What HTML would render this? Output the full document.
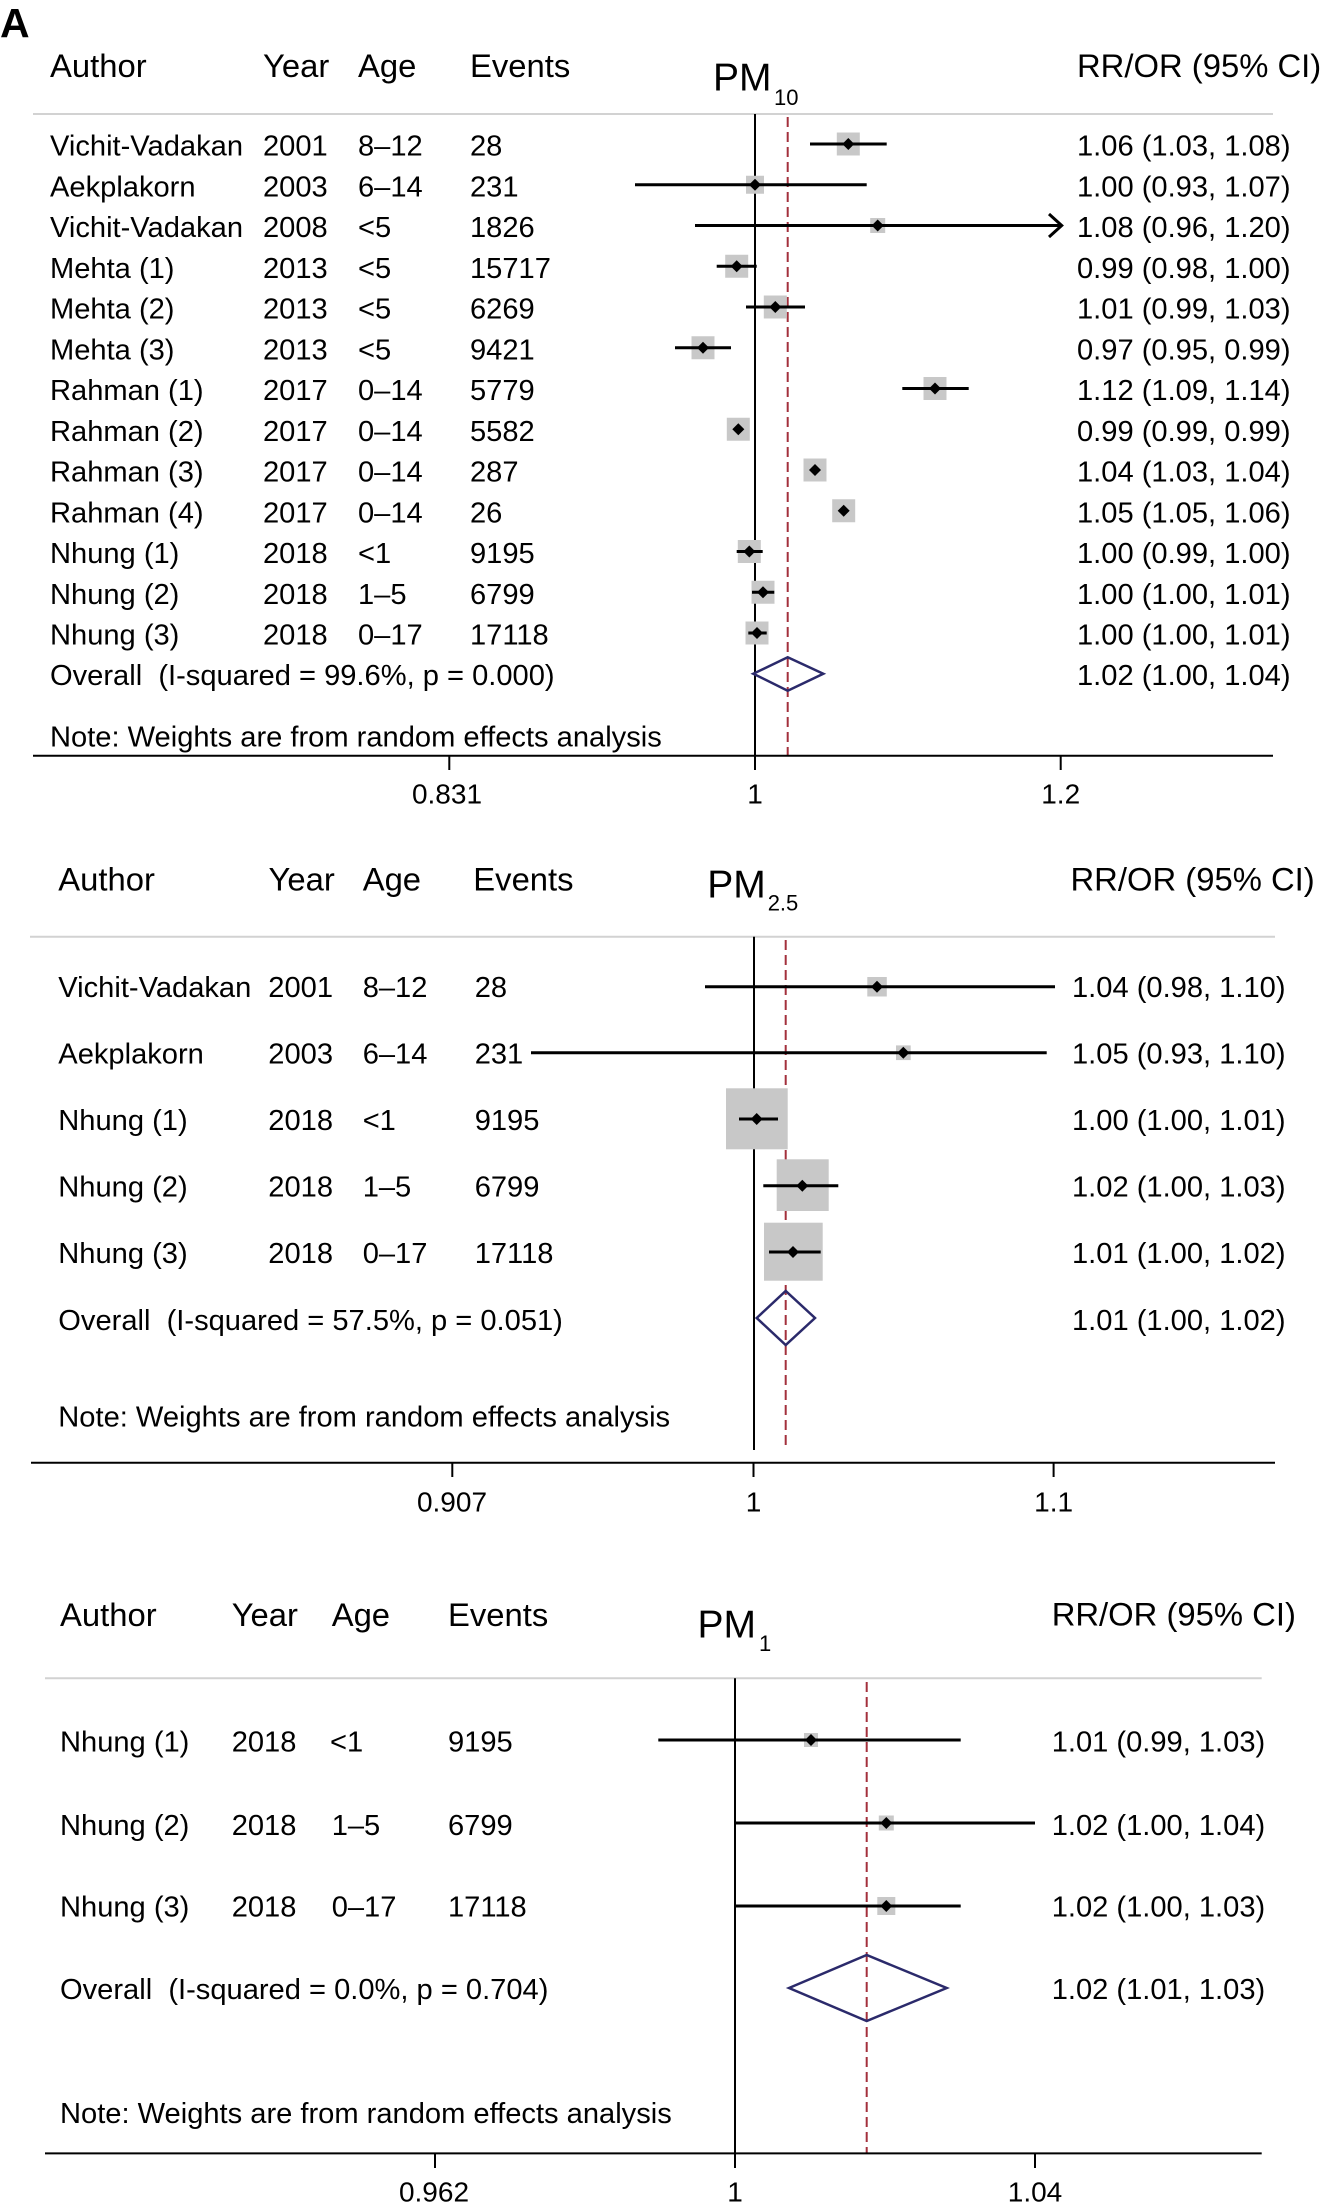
<!DOCTYPE html>
<html>
<head>
<meta charset="utf-8">
<style>
html,body{margin:0;padding:0;background:#fff;}
svg{display:block;}
text{font-family:"Liberation Sans",Arial,Helvetica,sans-serif;fill:#000;white-space:pre;}
.h{font-size:32.8px;}
.r{font-size:29.1px;}
.t{font-size:28px;}
.pm{font-size:39px;}
.sub{font-size:22px;}
</style>
</head>
<body>
<svg width="1324" height="2209" viewBox="0 0 1324 2209" xmlns="http://www.w3.org/2000/svg">
<rect x="0" y="0" width="1324" height="2209" fill="#fff"/>
<text x="0" y="37" style="font-size:41px;font-weight:bold;">A</text>

<!-- ================= PANEL 1 : PM10 ================= -->
<g>
<text class="h" x="50" y="77">Author</text>
<text class="h" x="263" y="77">Year</text>
<text class="h" x="358" y="77">Age</text>
<text class="h" x="470" y="77">Events</text>
<text class="pm" x="713" y="90.7">PM</text>
<text class="sub" x="774" y="105">10</text>
<text class="h" x="1077" y="77">RR/OR (95% CI)</text>
<line x1="33" y1="114" x2="1273" y2="114" stroke="#d2d2d2" stroke-width="2"/>

<line x1="755" y1="114" x2="755" y2="770" stroke="#000" stroke-width="2"/>
<line x1="787.7" y1="117" x2="787.7" y2="755" stroke="#a3303c" stroke-width="2" stroke-dasharray="10 5"/>

<g fill="#c8c8c8">
<rect x="836.8" y="132.5" width="23" height="23"/>
<rect x="746" y="175.75" width="18" height="18"/>
<rect x="870.2" y="218" width="15" height="15"/>
<rect x="725.2" y="254.75" width="23" height="23"/>
<rect x="763.8" y="295.5" width="23" height="23"/>
<rect x="691.5" y="336.25" width="23" height="23"/>
<rect x="923.5" y="377" width="23" height="23"/>
<rect x="726.8" y="417.75" width="23" height="23"/>
<rect x="803.5" y="458.5" width="23" height="23"/>
<rect x="832.2" y="499.25" width="23" height="23"/>
<rect x="737.8" y="540" width="23" height="23"/>
<rect x="751.5" y="580.75" width="23" height="23"/>
<rect x="745.5" y="621.5" width="23" height="23"/>
</g>
<g stroke="#000" stroke-width="3">
<line x1="810" y1="144" x2="886.7" y2="144"/>
<line x1="635" y1="184.75" x2="866.7" y2="184.75"/>
<line x1="695" y1="225.5" x2="1061" y2="225.5"/>
<line x1="716.7" y1="266.25" x2="756.7" y2="266.25"/>
<line x1="746" y1="307" x2="805" y2="307"/>
<line x1="675" y1="347.75" x2="731" y2="347.75"/>
<line x1="902.3" y1="388.5" x2="968.7" y2="388.5"/>
<line x1="735" y1="429.25" x2="741.5" y2="429.25"/>
<line x1="811" y1="470" x2="817" y2="470"/>
<line x1="842" y1="510.75" x2="847" y2="510.75"/>
<line x1="736.7" y1="551.5" x2="762.7" y2="551.5"/>
<line x1="752" y1="592.25" x2="774.3" y2="592.25"/>
<line x1="748.3" y1="633" x2="766.7" y2="633"/>
</g>
<polyline points="1049,214 1061.7,225.5 1049,237" fill="none" stroke="#000" stroke-width="3"/>
<g fill="#000">
<polygon points="848.3,138 854.3,144 848.3,150 842.3,144"/>
<polygon points="755,178.75 761,184.75 755,190.75 749,184.75"/>
<polygon points="877.7,219.5 883.7,225.5 877.7,231.5 871.7,225.5"/>
<polygon points="736.7,260.25 742.7,266.25 736.7,272.25 730.7,266.25"/>
<polygon points="775.3,301 781.3,307 775.3,313 769.3,307"/>
<polygon points="703,341.75 709,347.75 703,353.75 697,347.75"/>
<polygon points="935,382.5 941,388.5 935,394.5 929,388.5"/>
<polygon points="738.3,423.25 744.3,429.25 738.3,435.25 732.3,429.25"/>
<polygon points="815,464 821,470 815,476 809,470"/>
<polygon points="843.7,504.75 849.7,510.75 843.7,516.75 837.7,510.75"/>
<polygon points="749.3,545.5 755.3,551.5 749.3,557.5 743.3,551.5"/>
<polygon points="763,586.25 769,592.25 763,598.25 757,592.25"/>
<polygon points="757,627 763,633 757,639 751,633"/>
</g>
<polygon points="753.3,673.75 787.7,657.3 823.3,673.75 787.7,690.7" fill="none" stroke="#2b2a6b" stroke-width="2.5"/>

<g>
<text class="r" x="50" y="155.5">Vichit-Vadakan</text><text class="r" x="263" y="155.5">2001</text><text class="r" x="358" y="155.5">8–12</text><text class="r" x="470" y="155.5">28</text><text class="r" x="1077" y="155.5">1.06 (1.03, 1.08)</text>
<text class="r" x="50" y="196.25">Aekplakorn</text><text class="r" x="263" y="196.25">2003</text><text class="r" x="358" y="196.25">6–14</text><text class="r" x="470" y="196.25">231</text><text class="r" x="1077" y="196.25">1.00 (0.93, 1.07)</text>
<text class="r" x="50" y="237">Vichit-Vadakan</text><text class="r" x="263" y="237">2008</text><text class="r" x="358" y="237">&lt;5</text><text class="r" x="470" y="237">1826</text><text class="r" x="1077" y="237">1.08 (0.96, 1.20)</text>
<text class="r" x="50" y="277.75">Mehta (1)</text><text class="r" x="263" y="277.75">2013</text><text class="r" x="358" y="277.75">&lt;5</text><text class="r" x="470" y="277.75">15717</text><text class="r" x="1077" y="277.75">0.99 (0.98, 1.00)</text>
<text class="r" x="50" y="318.5">Mehta (2)</text><text class="r" x="263" y="318.5">2013</text><text class="r" x="358" y="318.5">&lt;5</text><text class="r" x="470" y="318.5">6269</text><text class="r" x="1077" y="318.5">1.01 (0.99, 1.03)</text>
<text class="r" x="50" y="359.25">Mehta (3)</text><text class="r" x="263" y="359.25">2013</text><text class="r" x="358" y="359.25">&lt;5</text><text class="r" x="470" y="359.25">9421</text><text class="r" x="1077" y="359.25">0.97 (0.95, 0.99)</text>
<text class="r" x="50" y="400">Rahman (1)</text><text class="r" x="263" y="400">2017</text><text class="r" x="358" y="400">0–14</text><text class="r" x="470" y="400">5779</text><text class="r" x="1077" y="400">1.12 (1.09, 1.14)</text>
<text class="r" x="50" y="440.75">Rahman (2)</text><text class="r" x="263" y="440.75">2017</text><text class="r" x="358" y="440.75">0–14</text><text class="r" x="470" y="440.75">5582</text><text class="r" x="1077" y="440.75">0.99 (0.99, 0.99)</text>
<text class="r" x="50" y="481.5">Rahman (3)</text><text class="r" x="263" y="481.5">2017</text><text class="r" x="358" y="481.5">0–14</text><text class="r" x="470" y="481.5">287</text><text class="r" x="1077" y="481.5">1.04 (1.03, 1.04)</text>
<text class="r" x="50" y="522.25">Rahman (4)</text><text class="r" x="263" y="522.25">2017</text><text class="r" x="358" y="522.25">0–14</text><text class="r" x="470" y="522.25">26</text><text class="r" x="1077" y="522.25">1.05 (1.05, 1.06)</text>
<text class="r" x="50" y="563">Nhung (1)</text><text class="r" x="263" y="563">2018</text><text class="r" x="358" y="563">&lt;1</text><text class="r" x="470" y="563">9195</text><text class="r" x="1077" y="563">1.00 (0.99, 1.00)</text>
<text class="r" x="50" y="603.75">Nhung (2)</text><text class="r" x="263" y="603.75">2018</text><text class="r" x="358" y="603.75">1–5</text><text class="r" x="470" y="603.75">6799</text><text class="r" x="1077" y="603.75">1.00 (1.00, 1.01)</text>
<text class="r" x="50" y="644.5">Nhung (3)</text><text class="r" x="263" y="644.5">2018</text><text class="r" x="358" y="644.5">0–17</text><text class="r" x="470" y="644.5">17118</text><text class="r" x="1077" y="644.5">1.00 (1.00, 1.01)</text>
<text class="r" x="50" y="685">Overall  (I-squared = 99.6%, p = 0.000)</text><text class="r" x="1077" y="685">1.02 (1.00, 1.04)</text>
<text class="r" x="50" y="746.5">Note: Weights are from random effects analysis</text>
</g>
<line x1="33" y1="755.7" x2="1273" y2="755.7" stroke="#000" stroke-width="2"/>
<line x1="449.3" y1="755.7" x2="449.3" y2="770" stroke="#000" stroke-width="2"/>
<line x1="1060.7" y1="755.7" x2="1060.7" y2="770" stroke="#000" stroke-width="2"/>
<text class="t" x="447" y="803.3" text-anchor="middle">0.831</text>
<text class="t" x="755" y="803.3" text-anchor="middle">1</text>
<text class="t" x="1060.7" y="803.3" text-anchor="middle">1.2</text>
</g>

<!-- ================= PANEL 2 : PM2.5 ================= -->
<g>
<text class="h" x="58.3" y="890.7">Author</text>
<text class="h" x="268.5" y="890.7">Year</text>
<text class="h" x="362.7" y="890.7">Age</text>
<text class="h" x="473.3" y="890.7">Events</text>
<text class="pm" x="707.3" y="897.3">PM</text>
<text class="sub" x="767.7" y="910.7">2.5</text>
<text class="h" x="1070.5" y="890.7">RR/OR (95% CI)</text>
<line x1="30" y1="936.7" x2="1275" y2="936.7" stroke="#d2d2d2" stroke-width="2"/>

<line x1="754" y1="936.7" x2="754" y2="1450" stroke="#000" stroke-width="2"/>
<line x1="785.7" y1="940" x2="785.7" y2="1450" stroke="#a3303c" stroke-width="2" stroke-dasharray="10 5"/>

<g fill="#c8c8c8">
<rect x="867.3" y="977" width="19.5" height="19.5"/>
<rect x="896" y="1045.4" width="14.7" height="14.7"/>
<rect x="726" y="1088.3" width="61.7" height="61"/>
<rect x="776.7" y="1159.3" width="52" height="51.7"/>
<rect x="764" y="1222.7" width="58.7" height="58"/>
</g>
<g stroke="#000" stroke-width="3">
<line x1="705" y1="986.7" x2="1055" y2="986.7"/>
<line x1="531" y1="1052.7" x2="1046.7" y2="1052.7"/>
<line x1="739" y1="1119" x2="778" y2="1119"/>
<line x1="763.3" y1="1185.7" x2="838.3" y2="1185.7"/>
<line x1="769" y1="1252" x2="820.7" y2="1252"/>
</g>
<g fill="#000">
<polygon points="877,980.7 883,986.7 877,992.7 871,986.7"/>
<polygon points="903.3,1046.7 909.3,1052.7 903.3,1058.7 897.3,1052.7"/>
<polygon points="756.7,1113 762.7,1119 756.7,1125 750.7,1119"/>
<polygon points="802.3,1179.7 808.3,1185.7 802.3,1191.7 796.3,1185.7"/>
<polygon points="793,1246 799,1252 793,1258 787,1252"/>
</g>
<polygon points="756.7,1318 785.7,1291 815,1318 785.7,1345" fill="none" stroke="#2b2a6b" stroke-width="2.5"/>

<text class="r" x="58.3" y="997">Vichit-Vadakan</text><text class="r" x="268.3" y="997">2001</text><text class="r" x="362.7" y="997">8–12</text><text class="r" x="474.7" y="997">28</text><text class="r" x="1072" y="997">1.04 (0.98, 1.10)</text>
<text class="r" x="58.3" y="1063.5">Aekplakorn</text><text class="r" x="268.3" y="1063.5">2003</text><text class="r" x="362.7" y="1063.5">6–14</text><text class="r" x="474.7" y="1063.5">231</text><text class="r" x="1072" y="1063.5">1.05 (0.93, 1.10)</text>
<text class="r" x="58.3" y="1130">Nhung (1)</text><text class="r" x="268.3" y="1130">2018</text><text class="r" x="362.7" y="1130">&lt;1</text><text class="r" x="474.7" y="1130">9195</text><text class="r" x="1072" y="1130">1.00 (1.00, 1.01)</text>
<text class="r" x="58.3" y="1196.5">Nhung (2)</text><text class="r" x="268.3" y="1196.5">2018</text><text class="r" x="362.7" y="1196.5">1–5</text><text class="r" x="474.7" y="1196.5">6799</text><text class="r" x="1072" y="1196.5">1.02 (1.00, 1.03)</text>
<text class="r" x="58.3" y="1263">Nhung (3)</text><text class="r" x="268.3" y="1263">2018</text><text class="r" x="362.7" y="1263">0–17</text><text class="r" x="474.7" y="1263">17118</text><text class="r" x="1072" y="1263">1.01 (1.00, 1.02)</text>
<text class="r" x="58.3" y="1330">Overall  (I-squared = 57.5%, p = 0.051)</text><text class="r" x="1072" y="1330">1.01 (1.00, 1.02)</text>
<text class="r" x="58.3" y="1426.7">Note: Weights are from random effects analysis</text>

<line x1="31" y1="1462.7" x2="1275" y2="1462.7" stroke="#000" stroke-width="2"/>
<line x1="452.3" y1="1462.7" x2="452.3" y2="1477" stroke="#000" stroke-width="2"/>
<line x1="753.5" y1="1462.7" x2="753.5" y2="1477" stroke="#000" stroke-width="2"/>
<line x1="1053.6" y1="1462.7" x2="1053.6" y2="1477" stroke="#000" stroke-width="2"/>
<text class="t" x="452" y="1511.7" text-anchor="middle">0.907</text>
<text class="t" x="753.5" y="1511.7" text-anchor="middle">1</text>
<text class="t" x="1053.6" y="1511.7" text-anchor="middle">1.1</text>
</g>

<!-- ================= PANEL 3 : PM1 ================= -->
<g>
<text class="h" x="60" y="1626">Author</text>
<text class="h" x="231.7" y="1626">Year</text>
<text class="h" x="331.7" y="1626">Age</text>
<text class="h" x="448" y="1626">Events</text>
<text class="pm" x="697.5" y="1637.5">PM</text>
<text class="sub" x="759" y="1651">1</text>
<text class="h" x="1051.7" y="1625.7">RR/OR (95% CI)</text>
<line x1="45" y1="1678.3" x2="1261.7" y2="1678.3" stroke="#d2d2d2" stroke-width="2"/>

<line x1="735" y1="1678.3" x2="735" y2="2168" stroke="#000" stroke-width="2"/>
<line x1="866.7" y1="1682" x2="866.7" y2="2153" stroke="#a3303c" stroke-width="2" stroke-dasharray="10 5"/>

<g fill="#c8c8c8">
<rect x="804" y="1733" width="14" height="14"/>
<rect x="878.8" y="1815.5" width="15" height="15"/>
<rect x="877.3" y="1897" width="18" height="18"/>
</g>
<g stroke="#000" stroke-width="3">
<line x1="658.3" y1="1740" x2="960.7" y2="1740"/>
<line x1="735" y1="1823" x2="1035" y2="1823"/>
<line x1="735" y1="1906" x2="960.7" y2="1906"/>
</g>
<g fill="#000">
<polygon points="811,1734 817,1740 811,1746 805,1740"/>
<polygon points="886.3,1817 892.3,1823 886.3,1829 880.3,1823"/>
<polygon points="886.3,1900 892.3,1906 886.3,1912 880.3,1906"/>
</g>
<polygon points="789,1988 866.7,1955 946.7,1988 866.7,2021" fill="none" stroke="#2b2a6b" stroke-width="2.5"/>

<text class="r" x="60" y="1751.7">Nhung (1)</text><text class="r" x="231.7" y="1751.7">2018</text><text class="r" x="330" y="1751.7">&lt;1</text><text class="r" x="448" y="1751.7">9195</text><text class="r" x="1051.7" y="1751.7">1.01 (0.99, 1.03)</text>
<text class="r" x="60" y="1835">Nhung (2)</text><text class="r" x="231.7" y="1835">2018</text><text class="r" x="331.7" y="1835">1–5</text><text class="r" x="448" y="1835">6799</text><text class="r" x="1051.7" y="1835">1.02 (1.00, 1.04)</text>
<text class="r" x="60" y="1916.7">Nhung (3)</text><text class="r" x="231.7" y="1916.7">2018</text><text class="r" x="331.7" y="1916.7">0–17</text><text class="r" x="448" y="1916.7">17118</text><text class="r" x="1051.7" y="1916.7">1.02 (1.00, 1.03)</text>
<text class="r" x="60" y="1999">Overall  (I-squared = 0.0%, p = 0.704)</text><text class="r" x="1051.7" y="1999">1.02 (1.01, 1.03)</text>
<text class="r" x="60" y="2123">Note: Weights are from random effects analysis</text>

<line x1="45" y1="2153.4" x2="1261.7" y2="2153.4" stroke="#000" stroke-width="2"/>
<line x1="435" y1="2153.4" x2="435" y2="2168" stroke="#000" stroke-width="2"/>
<line x1="1035" y1="2153.4" x2="1035" y2="2168" stroke="#000" stroke-width="2"/>
<text class="t" x="434" y="2201.5" text-anchor="middle">0.962</text>
<text class="t" x="735" y="2201.5" text-anchor="middle">1</text>
<text class="t" x="1035" y="2201.5" text-anchor="middle">1.04</text>
</g>
</svg>
</body>
</html>
